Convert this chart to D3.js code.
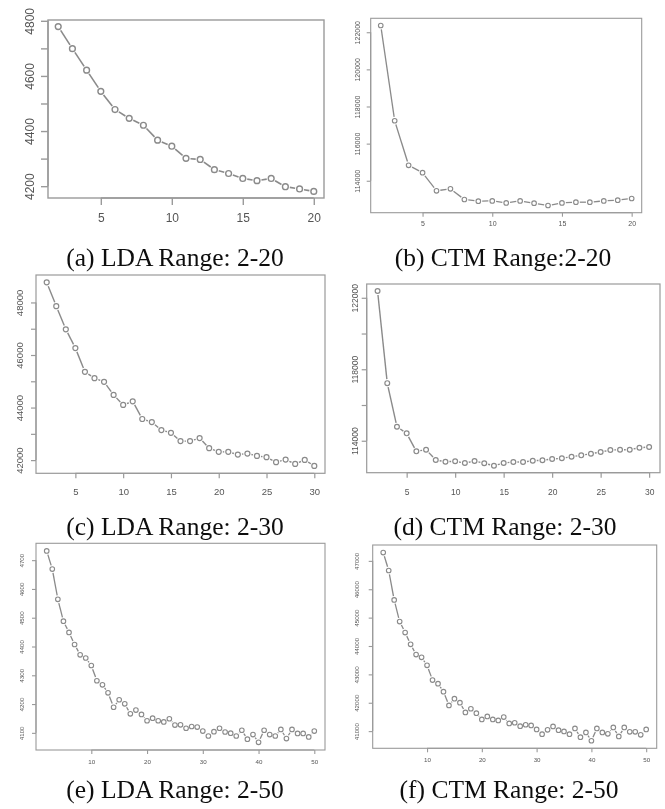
<!DOCTYPE html>
<html>
<head>
<meta charset="utf-8">
<script src="https://cdn.jsdelivr.net/npm/d3@7"></script>
<style>
  html, body { margin: 0; padding: 0; background: #fff; }
  svg { display: block; }
</style>
</head>
<body>
<script>
// ---------------- DATA ----------------
const topics20 = [2,3,4,5,6,7,8,9,10,11,12,13,14,15,16,17,18,19,20];
const topics30 = [2,3,4,5,6,7,8,9,10,11,12,13,14,15,16,17,18,19,20,21,22,23,24,25,26,27,28,29,30];
const topics50 = [2,3,4,5,6,7,8,9,10,11,12,13,14,15,16,17,18,19,20,21,22,23,24,25,26,27,28,29,30,
                  31,32,33,34,35,36,37,38,39,40,41,42,43,44,45,46,47,48,49,50];

const ldaRange20 = [4779,4699,4621,4544,4478,4446,4421,4367,4345,4301,4297,4260,4246,4228,4220,4228,4198,4190,4181];
const ctmRange20 = [122363,117233,114833,114433,113458,113566,112991,112900,112916,112808,112916,112791,112667,112808,112845,112845,112916,112953,113045];
const ldaRange30 = [48765,47859,46979,46264,45361,45117,44979,44482,44100,44237,43564,43449,43143,43040,42723,42723,42838,42455,42314,42314,42211,42249,42160,42111,41920,42019,41855,42008,41778];
const ctmRange30 = [122380,117223,114782,114413,113408,113497,112922,112827,112849,112754,112866,112737,112603,112754,112810,112810,112883,112905,112978,113017,113106,113184,113274,113369,113480,113497,113497,113609,113648];
const ldaRange50 = [4732,4669,4564,4488,4449,4407,4371,4360,4334,4281,4267,4239,4189,4215,4201,4166,4179,4164,4142,4151,4142,4138,4149,4127,4128,4116,4122,4120,4106,
                    4089,4104,4116,4103,4099,4089,4109,4078,4094,4067,4109,4094,4089,4112,4080,4112,4098,4098,4086,4106];
const ctmRange50 = [47294,46661,45624,44861,44473,44060,43696,43601,43319,42800,42672,42390,41906,42142,42001,41659,41789,41634,41412,41518,41412,41377,41494,41271,41295,41176,41225,41200,41059,
                    40894,41047,41165,41035,40989,40894,41094,40787,40953,40660,41094,40953,40906,41129,40812,41129,40977,40977,40871,41059];

const xTicks20 = [5,10,15,20];
const xTicks30 = [5,10,15,20,25,30];
const xTicks50 = [10,20,30,40,50];

const yTicksA = [4200,4300,4400,4500,4600,4700,4800];
const yLabelsA = [4200,4400,4600,4800];
const yTicksB = [114000,116000,118000,120000,122000];
const yLabelsB = [114000,116000,118000,120000,122000];
const yTicksC = [42000,43000,44000,45000,46000,47000,48000];
const yLabelsC = [42000,44000,46000,48000];
const yTicksD = [114000,116000,118000,120000,122000];
const yLabelsD = [114000,118000,122000];
const yTicksE = [4100,4200,4300,4400,4500,4600,4700];
const yLabelsE = [4100,4200,4300,4400,4500,4600,4700];
const yTicksF = [41000,42000,43000,44000,45000,46000,47000];
const yLabelsF = [41000,42000,43000,44000,45000,46000,47000];

const captions = ["(a) LDA Range: 2-20", "(b) CTM Range:2-20",
                  "(c) LDA Range: 2-30", "(d) CTM Range: 2-30",
                  "(e) LDA Range: 2-50", "(f) CTM Range: 2-50"];

// ---------------- LAYOUT ----------------
const W = 665, H = 809;
const panels = [
  { x: topics20, y: ldaRange20, xt: xTicks20, yt: yTicksA, yl: yLabelsA, cap: captions[0],
    box: [48, 20, 324, 198], fs: 12, tick: 7, xoff: 20, yoff: 18, r: 2.9, sw: 1.4, capX: 175, capY: 266 },
  { x: topics20, y: ctmRange20, xt: xTicks20, yt: yTicksB, yl: yLabelsB, cap: captions[1],
    box: [370.7, 18.3, 641.7, 212.7], fs: 7, tick: 4, xoff: 11, yoff: 12.7, r: 2.3, sw: 1.1, capX: 503, capY: 266 },
  { x: topics30, y: ldaRange30, xt: xTicks30, yt: yTicksC, yl: yLabelsC, cap: captions[2],
    box: [36, 275, 325, 473.3], fs: 9.5, tick: 5, xoff: 18, yoff: 16, r: 2.5, sw: 1.2, capX: 175, capY: 535 },
  { x: topics30, y: ctmRange30, xt: xTicks30, yt: yTicksD, yl: yLabelsD, cap: captions[3],
    box: [366.7, 284, 660, 472.7], fs: 8.5, tick: 5, xoff: 19, yoff: 11.7, r: 2.4, sw: 1.2, capX: 505, capY: 535 },
  { x: topics50, y: ldaRange50, xt: xTicks50, yt: yTicksE, yl: yLabelsE, cap: captions[4],
    box: [36, 543.3, 325, 750], fs: 6.2, tick: 4, xoff: 11.7, yoff: 14, r: 2.3, sw: 1.1, capX: 175, capY: 798 },
  { x: topics50, y: ctmRange50, xt: xTicks50, yt: yTicksF, yl: yLabelsF, cap: captions[5],
    box: [372.7, 545, 656.7, 748.3], fs: 6.2, tick: 4, xoff: 11.7, yoff: 16, r: 2.3, sw: 1.1, capX: 509, capY: 798 }
];

const LINE = "#8a8a8a", BOX = "#9a9a9a", TXT = "#555555";

const svg = d3.select("body").append("svg").attr("width", W).attr("height", H)
  .attr("font-family", "Liberation Sans, Arial, sans-serif");

const defs = svg.append("defs");
defs.append("filter").attr("id", "soft").attr("x", "-5%").attr("y", "-5%").attr("width", "110%").attr("height", "110%")
  .append("feGaussianBlur").attr("stdDeviation", 0.45);
defs.append("filter").attr("id", "softer")
  .append("feGaussianBlur").attr("stdDeviation", 0.25);

function padded(ext) {
  const d = (ext[1] - ext[0]) * 0.04;
  return [ext[0] - d, ext[1] + d];
}

panels.forEach(p => {
  const [L, T, R, B] = p.box;
  const xs = d3.scaleLinear().domain(padded(d3.extent(p.x))).range([L, R]);
  const ys = d3.scaleLinear().domain(padded(d3.extent(p.y))).range([B, T]);
  const g = svg.append("g").attr("filter", "url(#soft)");

  // box
  g.append("rect").attr("x", L).attr("y", T).attr("width", R - L).attr("height", B - T)
    .attr("fill", "none").attr("stroke", BOX).attr("stroke-width", p.sw);

  // x axis
  const xAxis = d3.axisBottom(xs).tickValues(p.xt).tickSize(p.tick).tickPadding(0).tickFormat(d3.format("d"));
  const gx = g.append("g").attr("transform", `translate(0,${B})`).call(xAxis);
  gx.select(".domain").attr("stroke", BOX).attr("stroke-width", p.sw)
    .attr("d", `M${xs(p.xt[0])},0H${xs(p.xt[p.xt.length - 1])}`);
  gx.selectAll(".tick line").attr("stroke", BOX).attr("stroke-width", p.sw);
  gx.selectAll(".tick text").attr("fill", TXT).attr("font-size", p.fs)
    .attr("font-family", "Liberation Sans, Arial, sans-serif")
    .attr("y", p.xoff).attr("dy", "0.35em");

  // y axis
  const yAxis = d3.axisLeft(ys).tickValues(p.yt).tickSize(p.tick).tickPadding(0)
    .tickFormat(v => p.yl.includes(v) ? String(v) : "");
  const gy = g.append("g").attr("transform", `translate(${L},0)`).call(yAxis);
  gy.select(".domain").attr("stroke", BOX).attr("stroke-width", p.sw)
    .attr("d", `M0,${ys(p.yt[0])}V${ys(p.yt[p.yt.length - 1])}`);
  gy.selectAll(".tick line").attr("stroke", BOX).attr("stroke-width", p.sw);
  gy.selectAll(".tick text").attr("fill", TXT).attr("font-size", p.fs)
    .attr("font-family", "Liberation Sans, Arial, sans-serif")
    .attr("x", null)
    .attr("text-anchor", "middle")
    .attr("transform", `translate(${-p.yoff},0) rotate(-90)`)
    .attr("dy", "0.35em");

  // type "b": segments with gaps around points
  const pts = p.x.map((k, i) => [xs(k), ys(p.y[i])]);
  const gap = p.r + 1.6;
  const segs = [];
  for (let i = 0; i < pts.length - 1; i++) {
    const [x1, y1] = pts[i], [x2, y2] = pts[i + 1];
    const dx = x2 - x1, dy = y2 - y1, len = Math.hypot(dx, dy);
    if (len > 2 * gap) {
      const ux = dx / len, uy = dy / len;
      segs.push([[x1 + ux * gap, y1 + uy * gap], [x2 - ux * gap, y2 - uy * gap]]);
    }
  }
  g.append("g").selectAll("line").data(segs).join("line")
    .attr("x1", d => d[0][0]).attr("y1", d => d[0][1])
    .attr("x2", d => d[1][0]).attr("y2", d => d[1][1])
    .attr("stroke", LINE).attr("stroke-width", p.sw + 0.2);

  g.append("g").selectAll("circle").data(pts).join("circle")
    .attr("cx", d => d[0]).attr("cy", d => d[1]).attr("r", p.r)
    .attr("fill", "none").attr("stroke", LINE).attr("stroke-width", p.sw);

  // caption
  svg.append("text").attr("x", p.capX).attr("y", p.capY)
    .attr("text-anchor", "middle")
    .attr("font-family", "Liberation Serif, Times New Roman, serif")
    .attr("font-size", 25.5).attr("fill", "#111")
    .attr("filter", "url(#softer)")
    .text(p.cap);
});
</script>
</body>
</html>
